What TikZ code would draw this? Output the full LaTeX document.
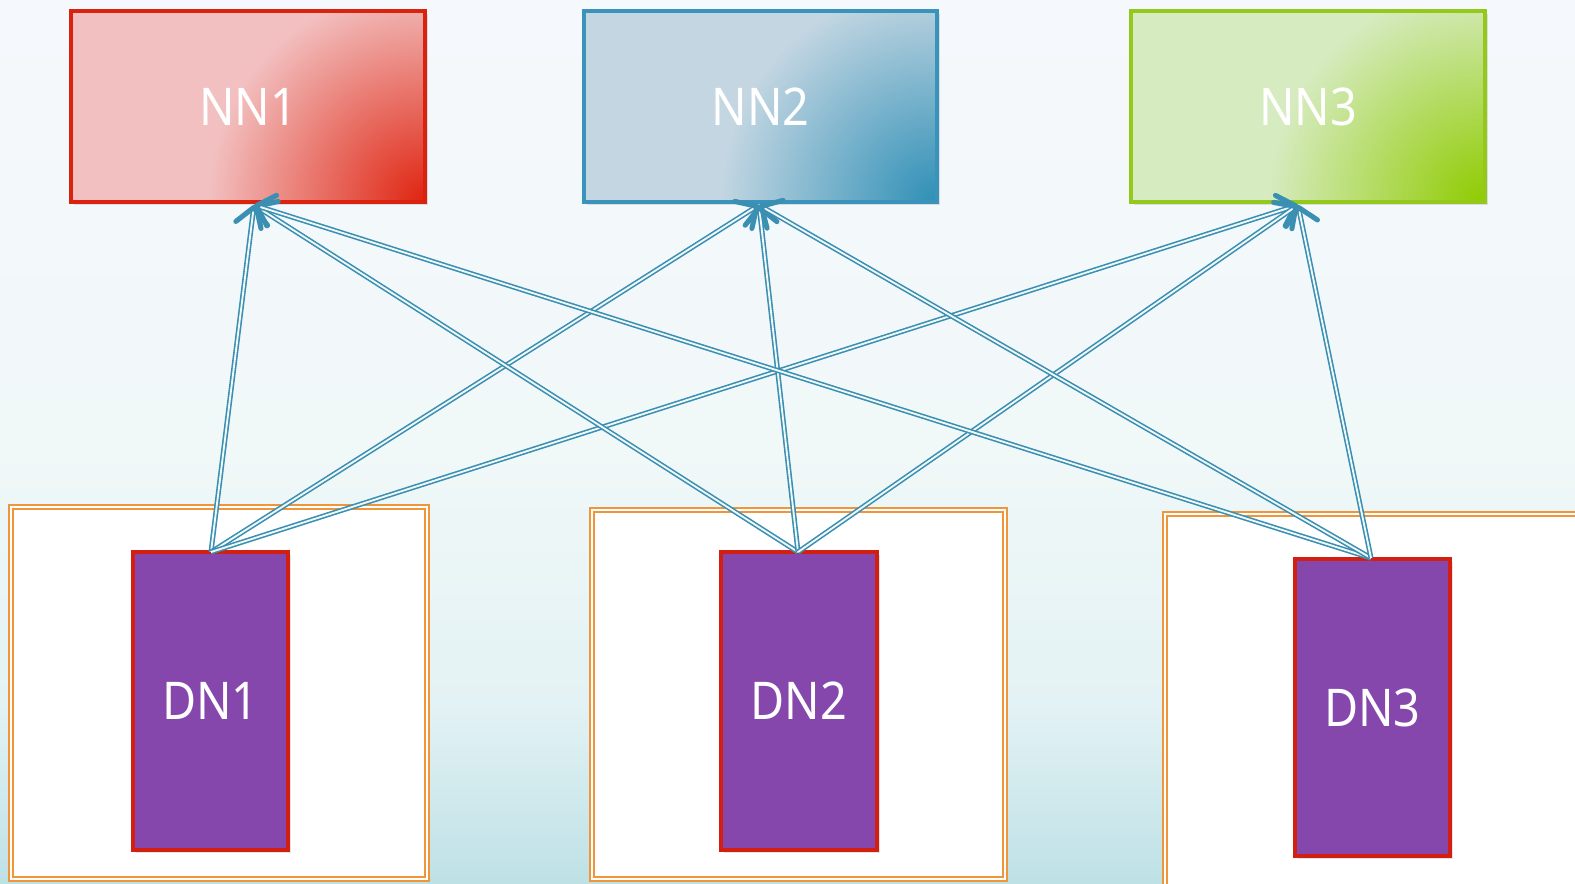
\documentclass[tikz,border=0pt]{standalone}
\usepackage{fontspec}
\setmainfont{Noto Sans}[FakeStretch=0.9]
\usetikzlibrary{arrows.meta,fit,shadows}
\definecolor{bgtop}{HTML}{F5F8FC}
\definecolor{bgmid}{HTML}{F1F8F8}
\definecolor{bglow}{HTML}{E3F2F4}
\definecolor{bgbot}{HTML}{BEE1E6}
\definecolor{redL}{HTML}{F2C0C0}
\definecolor{redD}{HTML}{DF2410}
\definecolor{redB}{HTML}{D9230F}
\definecolor{bluL}{HTML}{C3D6E2}
\definecolor{bluD}{HTML}{2E8FB6}
\definecolor{bluB}{HTML}{3A93BA}
\definecolor{grnL}{HTML}{D6EBC0}
\definecolor{grnD}{HTML}{8FCB00}
\definecolor{grnB}{HTML}{94C81A}
\definecolor{purp}{HTML}{8547AC}
\definecolor{dnB}{HTML}{D21F12}
\definecolor{orng}{HTML}{F0953A}
\definecolor{lnc}{HTML}{3A8FB2}
\pgfdeclareverticalshading{bgsh}{100bp}{color(0bp)=(bgbot); color(25bp)=(bgbot); color(35bp)=(bglow); color(50bp)=(bgmid); color(75bp)=(bgtop); color(100bp)=(bgtop)}
\pgfdeclareradialshading{redrad}{\pgfpointorigin}{color(0bp)=(redD); color(162bp)=(redL); color(300bp)=(redL)}
\pgfdeclareradialshading{blurad}{\pgfpointorigin}{color(0bp)=(bluD); color(162bp)=(bluL); color(300bp)=(bluL)}
\pgfdeclareradialshading{grnrad}{\pgfpointorigin}{color(0bp)=(grnD); color(162bp)=(grnL); color(300bp)=(grnL)}
\tikzset{
  nnbox/.style 2 args={inner sep=0pt, line width=2.8pt, draw=#1, fill=#2,
    drop shadow={opacity=0.22, shadow xshift=2pt, shadow yshift=-2pt}},
  lbl/.style={text=white, font=\fontsize{39}{39}\selectfont, inner sep=0pt},
  dnbox/.style={inner sep=0pt, fill=purp, draw=dnB, line width=2.3pt,
    drop shadow={opacity=0.22, shadow xshift=2pt, shadow yshift=-2pt}},
  outerbox/.style={draw=orng, double=white, line width=1.1pt, double distance=1.6pt, fill=white},
  conn/.style={draw=lnc, double=bgmid, line width=1.2pt, double distance=1.4pt,
    -{Straight Barb[length=12pt, width=24pt, line width=3.8pt, round]}}
}
\begin{document}
\begin{tikzpicture}[x=0.75pt,y=-0.75pt]
\useasboundingbox (0,0) rectangle (1575,883);
\fill[shading=bgsh] (0,0) rectangle (1575,883);
% outer frames
\draw[outerbox] (11,507) rectangle (427,879);
\draw[outerbox] (592,510) rectangle (1005,879);
\draw[outerbox] (1165,514) rectangle (1590,895);
% NN boxes
\coordinate (n1a) at (71,11); \coordinate (n1b) at (425,202);
\coordinate (n2a) at (584,11); \coordinate (n2b) at (937,202);
\coordinate (n3a) at (1131,11); \coordinate (n3b) at (1485,202);
\node[nnbox={redB}{redL}, fit=(n1a)(n1b)] (NN1) {};
\node[nnbox={bluB}{bluL}, fit=(n2a)(n2b)] (NN2) {};
\node[nnbox={grnB}{grnL}, fit=(n3a)(n3b)] (NN3) {};
\begin{scope}
\clip (n1a) rectangle (n1b);
\node[inner sep=0pt] (g1) at (n1b) {\pgfuseshading{redrad}};
\end{scope}
\begin{scope}
\clip (n2a) rectangle (n2b);
\node[inner sep=0pt] (g2) at (n2b) {\pgfuseshading{blurad}};
\end{scope}
\begin{scope}
\clip (n3a) rectangle (n3b);
\node[inner sep=0pt] (g3) at (n3b) {\pgfuseshading{grnrad}};
\end{scope}
\draw[line width=2.8pt, draw=redB] (n1a) rectangle (n1b);
\draw[line width=2.8pt, draw=bluB] (n2a) rectangle (n2b);
\draw[line width=2.8pt, draw=grnB] (n3a) rectangle (n3b);
\node[lbl] (L1) at (NN1.center) {NN1};
\node[lbl] (L2) at (NN2.center) {NN2};
\node[lbl] (L3) at (NN3.center) {NN3};
% DN boxes
\coordinate (d1a) at (133,552); \coordinate (d1b) at (288,850);
\coordinate (d2a) at (721,552); \coordinate (d2b) at (877,850);
\coordinate (d3a) at (1295,559); \coordinate (d3b) at (1450,856);
\node[dnbox, fit=(d1a)(d1b)] (DN1) {};
\node[dnbox, fit=(d2a)(d2b)] (DN2) {};
\node[dnbox, fit=(d3a)(d3b)] (DN3) {};
\node[lbl] (M1) at (DN1.center) {DN1};
\node[lbl] (M2) at (DN2.center) {DN2};
\node[lbl] (M3) at (DN3.center) {DN3};
% anchor points
\coordinate (s1) at (211,552);
\coordinate (s2) at (798,552);
\coordinate (s3) at (1371,558);
\coordinate (t1) at (254,205);
\coordinate (t2) at (759,205);
\coordinate (t3) at (1298,205);
\foreach \s in {s1,s2,s3}{
  \foreach \t in {t1,t2,t3}{
    \draw[conn] (\s) -- (\t);
  }
}
\end{tikzpicture}
\end{document}
